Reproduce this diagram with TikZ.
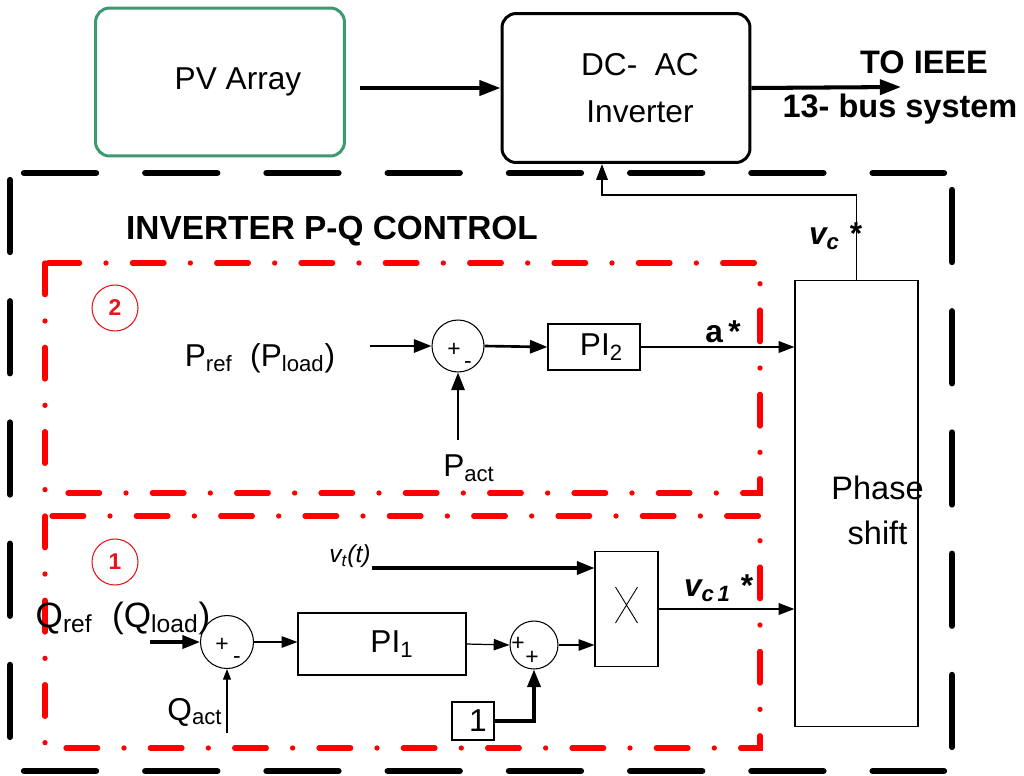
\documentclass[tikz,border=0pt]{standalone}
\usepackage{fontspec}
\setmainfont{Liberation Sans}
\usepackage{tikz}
\usetikzlibrary{arrows.meta,positioning,calc}
\definecolor{cPV}{HTML}{3D9A70}
\definecolor{cLoop}{HTML}{FF0000}
\definecolor{cTag}{HTML}{E8141B}
\newcommand{\fbig}{\fontsize{18}{21}\selectfont}
\tikzset{
  blk/.style={draw, line width=0.6pt, inner sep=0pt, font=\fbig},
  sumnode/.style={circle, draw, line width=0.6pt, inner sep=0pt, minimum size=#1},
  sgn/.style={inner sep=0pt, font=\fontsize{13}{13}\selectfont},
  tag/.style={circle, draw=cTag, line width=0.6pt, minimum size=0.92cm, inner sep=0pt,
              text=cTag, font=\bfseries\fontsize{13}{13}\selectfont},
  txt/.style={inner sep=0pt, font=\fbig},
  hdr/.style={inner sep=0pt, font=\bfseries\fontsize{18.5}{21}\selectfont},
  sig/.style={-{Triangle[length=9pt, width=6.5pt]}, line width=0.7pt},
  sigb/.style={-{Triangle[length=10pt, width=7.5pt]}, line width=1.5pt},
  sigs/.style={-{Triangle[length=6pt, width=4.5pt]}, line width=0.6pt},
  main/.style={-{Triangle[length=12pt, width=8.5pt]}, line width=2.3pt},
  loopbox/.style={draw=cLoop, line width=3pt, line cap=round, dash pattern=on 18pt off 15pt on 0pt off 15pt},
  ctrlbox/.style={draw, line width=3.6pt, line cap=round, dash pattern=on 41pt off 28pt},
}
\begin{document}
\begin{tikzpicture}[x=0.02cm, y=-0.02cm]
  \useasboundingbox (0,0) rectangle (1024,775);
  \node[blk, draw=cPV, line width=1.7pt, rounded corners=8pt, minimum width=4.98cm, minimum height=2.96cm] (pv) at (220,82) {\hspace*{0.72cm}PV Array};
  \node[blk, line width=1.7pt, rounded corners=8pt, minimum width=4.96cm, minimum height=2.98cm, align=center, font=\fontsize{18}{27}\selectfont] (inv) at (626,88) {\hspace*{0.56cm}DC-\ \ AC\\\hspace*{0.56cm}Inverter};
  \coordinate (grid) at (901,87);
  \node[hdr] (to) at (924,62) {TO IEEE};
  \node[hdr] (bus) at (900,109) {13- bus system};
  \draw[main] ([xshift=0.28cm]pv.east |- inv.west) -- (inv.west);
  \draw[main] (inv.east) -- (grid);
  \draw[ctrlbox] (24,173) -- (944,173) (24,771) -- (944,771) (10,180) -- (10,771) (952,190) -- (952,771);
  \node[hdr, font=\bfseries\fontsize{19}{21}\selectfont] (pq) at (332,231) {INVERTER P-Q CONTROL};
  \draw[loopbox] (45,263) rectangle (760,493);
  \draw[loopbox] (45,516) rectangle (760,748);
  \node[tag] (t2) at (115,308) {2};
  \node[tag] (t1) at (115,562) {1};
  \node[blk, minimum width=2.46cm, minimum height=8.94cm,
        label={[txt, align=center, xshift=0.42cm, yshift=-0.13cm, font=\fontsize{18.5}{25.6}\selectfont]center:Phase\\shift}] (ps) at (856.5,503.5) {};
  % loop 2
  \node[txt] (pref) at (260,358) {P\textsubscript{ref}\ \ (P\textsubscript{load})};
  \node[sumnode=1.04cm] (sp) at (458,346) {};
  \node[sgn] at ([shift={(-4,4)}]sp.center) {+};
  \node[sgn] at ([shift={(10,19)}]sp.center) {-};
  \node[blk, minimum width=1.84cm, minimum height=0.92cm] (pi2) at (594,347) {\hspace*{0.3cm}PI\textsubscript{2}};
  \node[txt] (pact) at (469,468) {P\textsubscript{act}};
  \coordinate (prefin) at (370,346);
  \coordinate (pain) at (458,440);
  \draw[sigb] (prefin) -- (sp.west);
  \draw[sigb] (sp.east) -- (pi2.west);
  \draw[sigb] (pain) -- (sp.south);
  \draw[sig, line width=1.2pt] (pi2.east) -- (pi2.east -| ps.west);
  \node[txt, font=\bfseries\fbig] (astar) at (723,332) {a\,*};
  % loop 1
  \node[txt, font=\fontsize{20}{22}\selectfont] (qref) at (123,618) {Q\textsubscript{ref}\ \ (Q\textsubscript{load})};
  \node[sumnode=1.06cm] (sq) at (227,642) {};
  \node[sgn] at ([shift={(-5,3)}]sq.center) {+};
  \node[sgn] at ([shift={(10,18)}]sq.center) {-};
  \node[blk, minimum width=3.36cm, minimum height=1.24cm] (pi1) at (382,644) {\hspace*{0.4cm}PI\textsubscript{1}};
  \node[sumnode=0.96cm] (sc) at (534,645) {};
  \node[sgn] at ([shift={(-16,-1)}]sc.center) {+};
  \node[sgn] at ([shift={(-2,13)}]sc.center) {+};
  \node[blk, minimum width=1.26cm, minimum height=2.3cm] (mult) at (626.5,609) {};
  \draw[line width=0.5pt] ([shift={(-11,-22)}]mult.center) -- ([shift={(11,14)}]mult.center)
                          ([shift={(11,-22)}]mult.center) -- ([shift={(-11,14)}]mult.center);
  \node[blk, minimum width=0.84cm, minimum height=0.76cm] (one) at (473,721) {\hspace*{0.2cm}1};
  \node[txt] (qact) at (195,712) {Q\textsubscript{act}};
  \node[txt, font=\itshape\fontsize{14}{16}\selectfont] (vt) at (350,556) {v\textsubscript{t}(t)};
  \coordinate (qin) at (150,642);
  \coordinate (qain) at (227,733);
  \coordinate (vtin) at (372,568);
  \draw[sigb, line width=1.8pt] (qin) -- (sq.west);
  \draw[sig] (sq.east) -- (sq.east -| pi1.west);
  \draw[sig] (pi1.east) -- (sc.west);
  \draw[sig] (sc.east) -- (sc.east -| mult.west);
  \draw[sigb, line width=1.8pt] (vtin) -- (vtin -| mult.west);
  \draw[sigb, line width=1.8pt] (one.east) -| (sc.south);
  \draw[sigs] (qain) -- (sq.south);
  \draw[sig, line width=1.2pt] (mult.east) -- (mult.east -| ps.west);
  \node[txt, font=\bfseries\itshape\fbig] (vc1) at (718,588) {v\textsubscript{c\,1}\ *};
  % feedback to inverter
  \coordinate (fb) at (602,195);
  \draw[sig, line width=1pt] (ps.north) |- (fb) -- (fb |- inv.south);
  \node[txt, font=\bfseries\itshape\fbig] (vc) at (835,236) {v\textsubscript{c}\ *};
\end{tikzpicture}
\end{document}
